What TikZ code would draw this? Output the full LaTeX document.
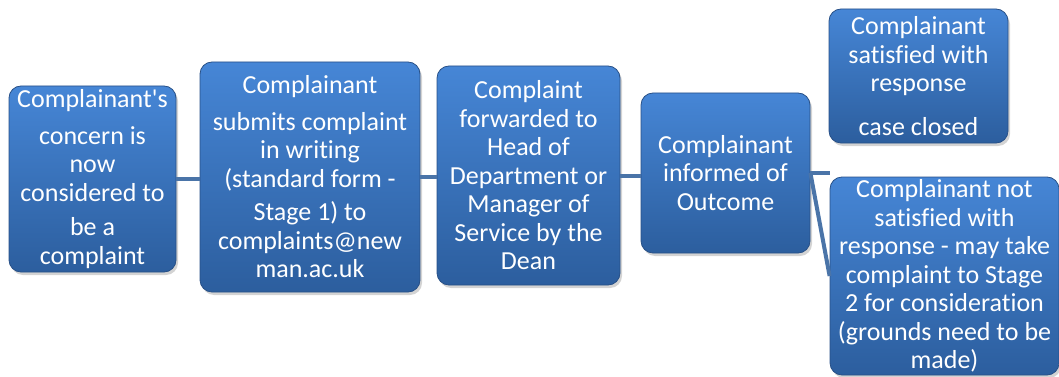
\documentclass[tikz,border=0pt]{standalone}
\usepackage{fontspec}
\setmainfont{Carlito}[Ligatures={TeXOff,CommonOff}]
\usetikzlibrary{shadows}
\definecolor{boxtop}{RGB}{70,134,214}
\definecolor{boxbot}{RGB}{44,94,158}
\definecolor{boxline}{RGB}{40,80,135}
\definecolor{conn}{RGB}{74,116,168}
\tikzset{
  stepbox/.style={rectangle, rounded corners=12pt, draw=boxline, line width=0.8pt,
    top color=boxtop, bottom color=boxbot, text=white, align=center, inner sep=0pt,
    font=\fontsize{26}{28.5}\selectfont,
    drop shadow={opacity=0.35, shadow xshift=2pt, shadow yshift=-3pt}},
  link/.style={draw=conn, line width=4pt}
}
\begin{document}
\begin{tikzpicture}[x=1pt,y=1pt]
\useasboundingbox (0,0) rectangle (1059,-377);
\node[stepbox, minimum width=167pt, minimum height=186pt] (b1) at (92.5,-179)
  {Complainant's\\[8pt]concern is\\now\\considered to\\[6pt]be a\\complaint};
\node[stepbox, minimum width=220pt, minimum height=230pt] (b2) at (310,-177)
  {Complainant\\[8pt]submits complaint\\in writing\\(standard form -\\[5pt]Stage 1) to\\complaints@new\\man.ac.uk};
\node[stepbox, minimum width=183pt, minimum height=219pt] (b3) at (528.5,-175.5)
  {Complaint\\forwarded to\\Head of\\Department or\\Manager of\\Service by the\\Dean};
\node[stepbox, minimum width=169pt, minimum height=160pt] (b4) at (725.5,-173)
  {Complainant\\informed of\\Outcome};
\node[stepbox, minimum width=179pt, minimum height=134pt] (b5) at (918.5,-76)
  {Complainant\\satisfied with\\response\\[15pt]case closed};
\node[stepbox, minimum width=229pt, minimum height=198pt] (b6) at (944.5,-276)
  {Complainant not\\satisfied with\\response - may take\\complaint to Stage\\2 for consideration\\(grounds need to be\\made)};
\coordinate (stub) at (830,-173);
\draw[link] (b1.east) -- (b1.east -| b2.west);
\draw[link] (b2.east) -- (b2.east -| b3.west);
\draw[link] (b3.east) -- (b3.east -| b4.west);
\draw[link] (b4.east) -- (stub);
\draw[link] (b4.east) -- (b6.west);
\end{tikzpicture}
\end{document}
